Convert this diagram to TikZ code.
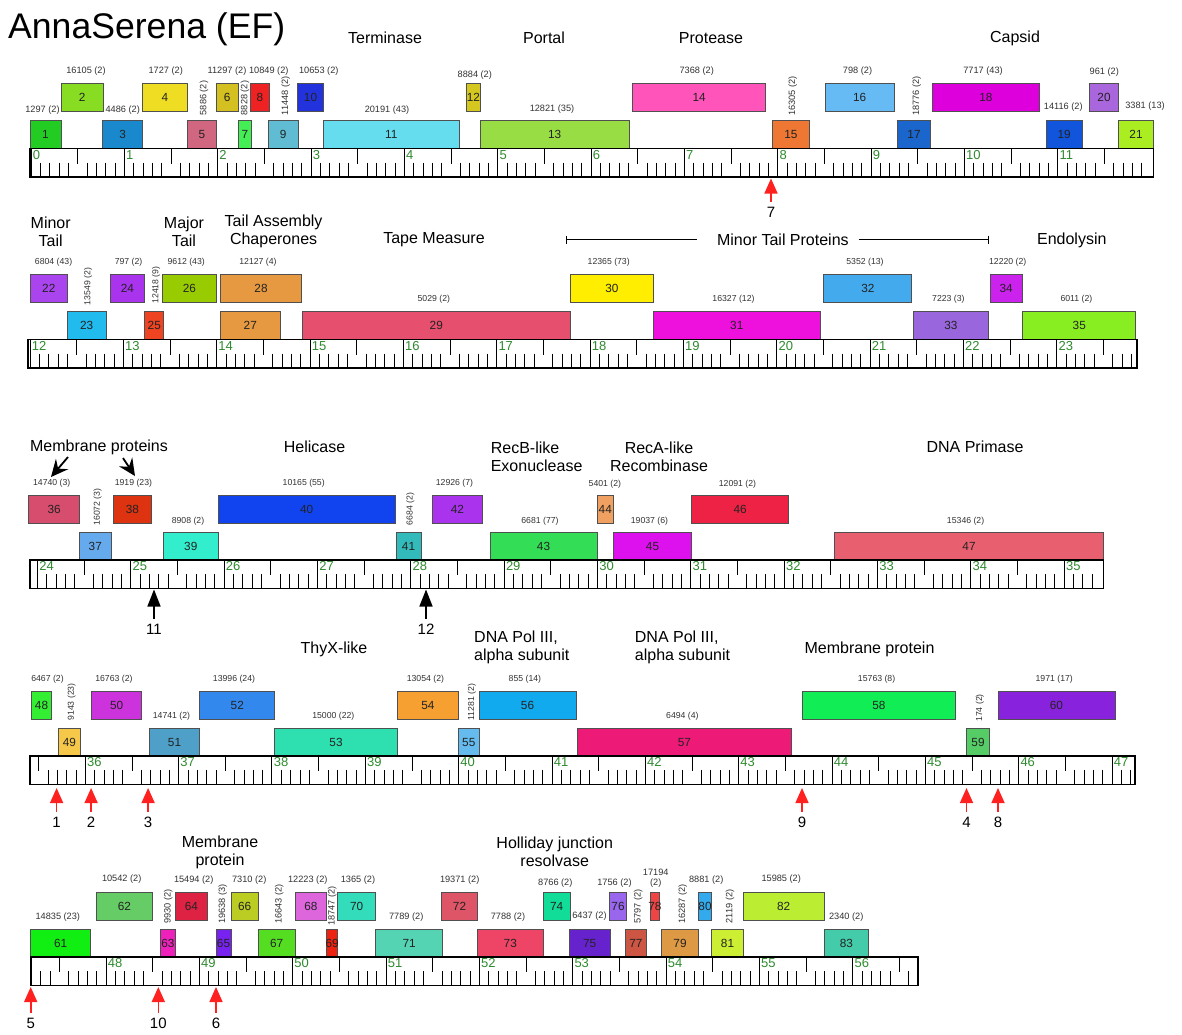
\documentclass[tikz,border=0pt]{standalone}
\usepackage{fontspec}
\setmainfont{Liberation Sans}
\usetikzlibrary{arrows.meta}

\definecolor{boxgray}{HTML}{505050}
\definecolor{numgray}{HTML}{222222}
\definecolor{labgray}{HTML}{333333}
\definecolor{kbgreen}{HTML}{2E8B2E}
\definecolor{arrred}{HTML}{FF2020}

\tikzset{
  genebox/.style={draw=boxgray, line width=0.8pt, minimum height=28pt, inner sep=0pt, outer sep=0pt},
  genenum/.style={font=\fontsize{11.8}{12}\selectfont, text=numgray, inner sep=0pt},
  glabel/.style={font=\fontsize{8.7}{9.5}\selectfont, text=labgray, inner sep=1pt},
  glabelA/.style={font=\fontsize{9.2}{10}\selectfont, text=labgray, inner sep=1pt},
  vlabel/.style={glabel, rotate=90},
  vlabelA/.style={glabelA, rotate=90},
  cat/.style={font=\fontsize{16}{18}\selectfont, align=center, inner sep=0pt},
  catleft/.style={cat, align=left, anchor=west},
  rulerframe/.style={line width=1.8pt, line join=miter},
  kbline/.style={line width=1pt},
  tickmark/.style={line width=0.9pt},
  kblabel/.style={font=\fontsize{13}{14}\selectfont, text=kbgreen, anchor=north west, inner sep=1pt},
  redarrow/.style={draw=arrred, line width=1.6pt, shorten <=4pt, -{Triangle[length=15pt,width=13pt]}},
  blackarrow/.style={draw=black, line width=1.6pt, shorten <=4pt, -{Triangle[length=17pt,width=13pt]}},
  swept/.style={draw=black, line width=1.8pt, -{Stealth[length=17pt,width=16pt,inset=6pt]}},
  arrnum/.style={font=\fontsize{15}{16}\selectfont, inner sep=1pt},
  bracket/.style={line width=0.8pt},
}

% gene box: number, left x, right x, centre y, fill colour (HTML)
\newcommand\gene[5]{%
  \definecolor{genefill}{HTML}{#5}%
  \pgfmathsetmacro\gw{#3-#2}\pgfmathsetmacro\gx{(#2+#3)/2}%
  \node[genebox, fill=genefill, minimum width=\gw pt] (g#1) at (\gx,#4) {};
  \node[genenum] (n#1) at (g#1.center) {#1};}

% small text label: [style] name, position, text
\newcommand\glab[4][glabel]{\node[#1] (#2) at (#3) {#4};}

% kilobase ruler: top y, left x, right x, x of first whole kb, value of that kb
\newcommand\kbruler[5]{%
  \pgfmathsetmacro\rbot{#1+28.5}%
  \pgfmathsetmacro\rhalf{#1+15}%
  \pgfmathsetmacro\rsmall{#1+14}%
  \foreach \i in {-10,...,125}{%
    \pgfmathsetmacro\tx{#4+\i*9.334}%
    \ifdim\tx pt>\dimexpr#2pt+0.5pt\relax
      \ifdim\tx pt<\dimexpr#3pt-3pt\relax
        \pgfmathtruncatemacro\m{mod(\i+100,10)}%
        \ifnum\m=0
          \pgfmathtruncatemacro\kb{#5+(\i+100)/10-10}%
          \draw[kbline] (\tx,#1) -- (\tx,\rbot);
          \node[kblabel] (kb\kb) at (\tx+0.6,#1+0.6) {\kb};
        \else\ifnum\m=5
          \draw[tickmark] (\tx,#1) -- (\tx,\rhalf);
        \else
          \draw[tickmark] (\tx,\rsmall) -- (\tx,\rbot);
        \fi\fi
      \fi
    \fi}%
  \draw[rulerframe] (#2,#1) rectangle (#3,\rbot);}

\begin{document}
\begin{tikzpicture}[x=1pt, y=-1pt]
\fill[white] (0,0) rectangle (1182,1034);
\useasboundingbox (0,0) rectangle (1182,1034);

\node[anchor=base west, font=\fontsize{35.6}{40}\selectfont, inner sep=0pt] (title) at (8,38.5) {AnnaSerena (EF)};

% ---------------- row 1: 0-12 kb ----------------
\node[cat] (cTerm) at (385,38) {Terminase};
\node[cat] (cPort) at (544,38) {Portal};
\node[cat] (cProt) at (711,38) {Protease};
\node[cat] (cCaps) at (1015,38) {Capsid};

\gene{1}{30}{61}{134.5}{22CC22}
\gene{2}{61}{103.3}{97.5}{88DD22}
\gene{3}{102.7}{142.7}{134.5}{1A88CC}
\gene{4}{142.3}{187.7}{97.5}{EEDD22}
\gene{5}{187.3}{216.7}{134.5}{D06680}
\gene{6}{216}{238.3}{97.5}{D4C020}
\gene{7}{238}{251.7}{134.5}{44EE55}
\gene{8}{250.7}{269}{97.5}{EE2222}
\gene{9}{268}{298.3}{134.5}{5FBCD3}
\gene{10}{297.7}{323.3}{97.5}{2233DD}
\gene{11}{323.3}{459.3}{134.5}{66DDEE}
\gene{12}{466.7}{480}{97.5}{D4C820}
\gene{13}{480}{629.3}{134.5}{99DD44}
\gene{14}{632.7}{765.7}{97.5}{FF55BB}
\gene{15}{772.3}{809.3}{134.5}{EE7733}
\gene{16}{825}{894.3}{97.5}{66BBF5}
\gene{17}{897.3}{930.7}{134.5}{1A66CC}
\gene{18}{932}{1039.7}{97.5}{DD00DD}
\gene{19}{1046}{1082.3}{134.5}{1155DD}
\gene{20}{1089.3}{1118.7}{97.5}{AA66DD}
\gene{21}{1118.7}{1153.3}{134.5}{AAEE22}

\glab[glabelA]{l1}{42.5,110}{1297 (2)}
\glab[glabelA]{l2}{86,71}{16105 (2)}
\glab[glabelA]{l3}{122.7,110}{4486 (2)}
\glab[glabelA]{l4}{165.7,71}{1727 (2)}
\glab[vlabelA]{l5}{204,98}{5886 (2)}
\glab[glabelA]{l6}{227,71}{11297 (2)}
\glab[vlabelA]{l7}{245,98}{8828 (2)}
\glab[glabelA]{l8}{268.8,71}{10849 (2)}
\glab[vlabelA]{l9}{285.7,96}{11448 (2)}
\glab[glabelA]{l10}{318.8,71}{10653 (2)}
\glab[glabelA]{l11}{387,110}{20191 (43)}
\glab[glabelA]{l12}{474.8,75}{8884 (2)}
\glab[glabelA]{l13}{552,109.5}{12821 (35)}
\glab[glabelA]{l14}{696.7,71.5}{7368 (2)}
\glab[vlabelA]{l15}{792.7,96}{16305 (2)}
\glab[glabelA]{l16}{857.5,71.5}{798 (2)}
\glab[vlabelA]{l17}{916.7,96}{18776 (2)}
\glab[glabelA]{l18}{983,71.5}{7717 (43)}
\glab[glabelA]{l19}{1063.3,107.5}{14116 (2)}
\glab[glabelA]{l20}{1104.3,72.5}{961 (2)}
\glab[glabelA]{l21}{1145,106}{3381 (13)}

\kbruler{148.5}{30}{1153.5}{31}{0}

\coordinate (t7) at (771,178.5);
\node[arrnum] (m7) at (771,212) {7};
\draw[redarrow] (m7.north) -- (t7);

% ---------------- row 2: 12-24 kb ----------------
\node[cat] (cMinT) at (50.7,231.5) {Minor\\Tail};
\node[cat] (cMajT) at (184,231.5) {Major\\Tail};
\node[cat] (cTAC) at (273.6,231.5) {Tail Assembly\\Chaperones};
\node[cat] (cTape) at (434,240) {Tape Measure};
\node[cat] (cMTP) at (782.9,240) {Minor Tail Proteins};
\node[cat] (cEndo) at (1071.8,240) {Endolysin};
\coordinate (mtpA) at (566.4,239.5);
\coordinate (mtpB) at (696.7,239.5);
\coordinate (mtpC) at (858.6,239.5);
\coordinate (mtpD) at (988.7,239.5);
\draw[bracket, {Bar[width=8pt]}-] (mtpA) -- (mtpB);
\draw[bracket, -{Bar[width=8pt]}] (mtpC) -- (mtpD);

\gene{22}{30.6}{67}{288.5}{AA44EE}
\gene{23}{67}{106.4}{325.5}{22BBEE}
\gene{24}{110.2}{144.7}{288.5}{AA33EE}
\gene{25}{144.7}{163.8}{325.5}{EE4422}
\gene{26}{162.6}{216.2}{288.5}{99CC00}
\gene{27}{220.4}{280.1}{325.5}{E69940}
\gene{28}{220.4}{301.6}{288.5}{E69940}
\gene{29}{302.3}{570.2}{325.5}{E6506E}
\gene{30}{570.2}{653.5}{288.5}{FFEE00}
\gene{31}{653.5}{820}{325.5}{EE11DD}
\gene{32}{823.8}{911.8}{288.5}{44AAEE}
\gene{33}{913}{988.7}{325.5}{9966DD}
\gene{34}{990.3}{1022}{288.5}{CC22EE}
\gene{35}{1022.8}{1135.7}{325.5}{88EE22}

\glab{l22}{53.6,262}{6804 (43)}
\glab[vlabel]{l23}{88,286.5}{13549 (2)}
\glab{l24}{128.6,262}{797 (2)}
\glab[vlabel]{l25}{156.1,285}{12418 (9)}
\glab{l26}{186.2,262}{9612 (43)}
\glab{l28}{258,262}{12127 (4)}
\glab{l29}{433.8,299.5}{5029 (2)}
\glab{l30}{608.7,262}{12365 (73)}
\glab{l31}{733.5,299.5}{16327 (12)}
\glab{l32}{865,262}{5352 (13)}
\glab{l33}{948.4,299.5}{7223 (3)}
\glab{l34}{1007.7,262.5}{12220 (2)}
\glab{l35}{1076.4,299.5}{6011 (2)}

\kbruler{339.5}{28}{1137}{30}{12}

% ---------------- row 3: 24-35 kb ----------------
\node[cat] (cMemP) at (99,447) {Membrane proteins};
\node[cat] (cHel) at (314.6,447) {Helicase};
\node[catleft] (cRecB) at (490.6,456.5) {RecB-like\\Exonuclease};
\node[cat] (cRecA) at (659,456.5) {RecA-like\\Recombinase};
\node[cat] (cPrim) at (975,447) {DNA Primase};
\coordinate (mpS1) at (68,457);
\coordinate (mpT1) at (51,477);
\coordinate (mpS2) at (123,458);
\coordinate (mpT2) at (135,476);
\draw[swept] (mpS1) -- (mpT1);
\draw[swept] (mpS2) -- (mpT2);

\gene{36}{28.7}{79.6}{509}{D64D6E}
\gene{37}{79.6}{111}{546}{66AAEE}
\gene{38}{113.7}{151.2}{509}{DD3311}
\gene{39}{163.4}{218.1}{546}{33EECC}
\gene{40}{218.1}{395.3}{509}{1144EE}
\gene{41}{396.1}{421}{546}{33BBBB}
\gene{42}{432.5}{482.2}{509}{AA33EE}
\gene{43}{489.9}{597.2}{546}{33DD55}
\gene{44}{597.2}{613.3}{509}{F0A060}
\gene{45}{613.3}{691.7}{546}{DD11EE}
\gene{46}{691.7}{788.6}{509}{EE2244}
\gene{47}{834.5}{1103.5}{546}{E86070}

\glab{l36}{51.7,483}{14740 (3)}
\glab[vlabel]{l37}{97.6,507}{16072 (3)}
\glab{l38}{133.4,483}{1919 (23)}
\glab{l39}{188,521}{8908 (2)}
\glab{l40}{303.7,483}{10165 (55)}
\glab[vlabel]{l41}{410.3,509}{6684 (2)}
\glab{l42}{454.5,483}{12926 (7)}
\glab{l43}{540,521}{6681 (77)}
\glab{l44}{604.9,484}{5401 (2)}
\glab{l45}{649.5,521}{19037 (6)}
\glab{l46}{737.5,484}{12091 (2)}
\glab{l47}{965.6,521}{15346 (2)}

\kbruler{560}{30}{1103.5}{37.5}{24}

\coordinate (t11) at (154,589.5);
\node[arrnum] (m11) at (154,629) {11};
\draw[blackarrow] (m11.north) -- (t11);
\coordinate (t12) at (426,589.5);
\node[arrnum] (m12) at (426,629) {12};
\draw[blackarrow] (m12.north) -- (t12);

% ---------------- row 4: 35-47 kb ----------------
\node[cat] (cThyX) at (334,649) {ThyX-like};
\node[catleft] (cPolA) at (474,647.5) {DNA Pol III,\\alpha subunit};
\node[catleft] (cPolB) at (634.7,647.5) {DNA Pol III,\\alpha subunit};
\node[cat] (cMemQ) at (869.5,649) {Membrane protein};

\gene{48}{31.4}{51.7}{705}{33EE33}
\gene{49}{58.6}{80.4}{742}{F5C84A}
\gene{50}{91.8}{141.6}{705}{CC33DD}
\gene{51}{149.3}{199.8}{742}{4FA0C8}
\gene{52}{199.8}{274.8}{705}{3388EE}
\gene{53}{274.8}{397.2}{742}{2EE0B0}
\gene{54}{397.2}{458.5}{705}{F5A030}
\gene{55}{458.5}{479.1}{742}{66BBEE}
\gene{56}{479.1}{576}{705}{11AAEE}
\gene{57}{577.1}{791.6}{742}{EE1A77}
\gene{58}{802.7}{955}{705}{11EE55}
\gene{59}{966.5}{989.5}{742}{55CC66}
\gene{60}{997.9}{1115}{705}{8822DD}

\glab{l48}{47.5,679}{6467 (2)}
\glab[vlabel]{l49}{71.6,702}{9143 (23)}
\glab{l50}{113.9,679}{16763 (2)}
\glab{l51}{171.5,716.5}{14741 (2)}
\glab{l52}{234,679}{13996 (24)}
\glab{l53}{333.3,716.5}{15000 (22)}
\glab{l54}{425.4,679}{13054 (2)}
\glab[vlabel]{l55}{471.9,702}{11281 (2)}
\glab{l56}{524.9,679}{855 (14)}
\glab{l57}{682.4,716.5}{6494 (4)}
\glab{l58}{876.6,679}{15763 (8)}
\glab[vlabel]{l59}{979.9,708}{174 (2)}
\glab{l60}{1054.2,679}{1971 (17)}

\kbruler{756}{30}{1135}{85.3}{36}

\foreach \nm/\ax in {1/56.6, 2/91.1, 3/148.1, 9/802, 4/966.5, 8/998}{
  \coordinate (t\nm) at (\ax,788);
  \node[arrnum] (m\nm) at (\ax,822.5) {\nm};
  \draw[redarrow] (m\nm.north) -- (t\nm);
}

% ---------------- row 5: 47-57 kb ----------------
\node[cat] (cMemR) at (220,852) {Membrane\\protein};
\node[cat] (cHJR) at (554.7,852) {Holliday junction\\resolvase};

\gene{61}{30.7}{90.7}{943}{11EE11}
\gene{62}{96}{152.7}{906}{66CC66}
\gene{63}{160.7}{175}{943}{EE22BB}
\gene{64}{175}{207.7}{906}{DD2244}
\gene{65}{216}{231}{943}{7722EE}
\gene{66}{231}{258.3}{906}{BBCC22}
\gene{67}{258.3}{295}{943}{55DD22}
\gene{68}{295}{326.7}{906}{DD66DD}
\gene{69}{326.7}{337.7}{943}{EE2211}
\gene{70}{337.7}{375.7}{906}{33DDBB}
\gene{71}{375.7}{442.7}{943}{55D4B4}
\gene{72}{441.7}{477.3}{906}{DD5566}
\gene{73}{477.3}{543.3}{943}{EE4466}
\gene{74}{543.3}{570}{906}{11DD99}
\gene{75}{569.3}{610}{943}{6622CC}
\gene{76}{609.3}{626.7}{906}{9966EE}
\gene{77}{625.7}{646}{943}{CC5544}
\gene{78}{650.7}{659}{906}{EE4444}
\gene{79}{661.7}{698.3}{943}{DD9944}
\gene{80}{698.3}{711.7}{906}{33AAEE}
\gene{81}{711.7}{743.3}{943}{CCEE33}
\gene{82}{743.3}{824}{906}{BBEE33}
\gene{83}{824.3}{868.3}{943}{44CCAA}

\glab[glabelA]{l61}{57.8,917}{14835 (23)}
\glab[glabelA]{l62}{121.7,879.5}{10542 (2)}
\glab[vlabelA]{l63}{168.3,906.5}{9930 (2)}
\glab[glabelA]{l64}{193.7,880.5}{15494 (2)}
\glab[vlabelA]{l65}{222.7,904}{19638 (3)}
\glab[glabelA]{l66}{249.2,880.5}{7310 (2)}
\glab[vlabelA]{l67}{279.3,904}{16643 (2)}
\glab[glabelA]{l68}{307.8,880.5}{12223 (2)}
\glab[vlabelA]{l69}{332.3,906}{18747 (2)}
\glab[glabelA]{l70}{358,880.5}{1365 (2)}
\glab[glabelA]{l71}{406.2,917.3}{7789 (2)}
\glab[glabelA]{l72}{459.7,880.5}{19371 (2)}
\glab[glabelA]{l73}{508,917.3}{7788 (2)}
\glab[glabelA]{l74}{555.3,883}{8766 (2)}
\glab[glabelA]{l75}{589.5,916}{6437 (2)}
\glab[glabelA]{l76}{614.5,883}{1756 (2)}
\glab[vlabelA]{l77}{638.3,906.5}{5797 (2)}
\glab[{glabelA, align=center}]{l78}{655.7,878.5}{17194\\(2)}
\glab[vlabelA]{l79}{682.7,904}{16287 (2)}
\glab[glabelA]{l80}{706.2,880.5}{8881 (2)}
\glab[vlabelA]{l81}{730,906.5}{2119 (2)}
\glab[glabelA]{l82}{781.2,879.5}{15985 (2)}
\glab[glabelA]{l83}{846.2,916.7}{2340 (2)}

\kbruler{957}{31}{918.3}{106}{48}

\foreach \nm/\ax in {5/30.7, 10/158.3, 6/216}{
  \coordinate (t\nm) at (\ax,987);
  \node[arrnum] (m\nm) at (\ax,1023) {\nm};
  \draw[redarrow] (m\nm.north) -- (t\nm);
}
\end{tikzpicture}
\end{document}
